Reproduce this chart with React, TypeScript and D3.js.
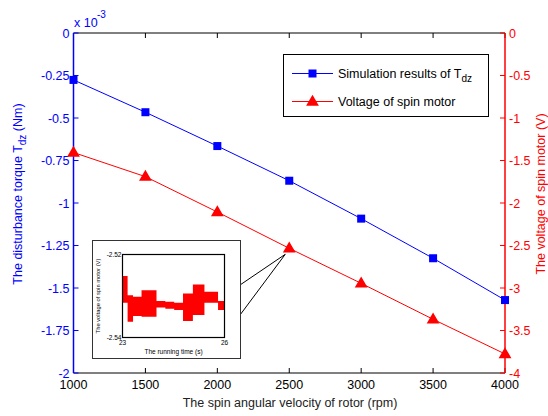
import React from "react";
import * as d3 from "d3";

const rpm = [1000, 1500, 2000, 2500, 3000, 3500, 4000];
const torque = [-0.276, -0.466, -0.665, -0.869, -1.092, -1.325, -1.571]; // x 1e-3 Nm
const voltage = [-1.406, -1.69, -2.106, -2.533, -2.945, -3.368, -3.776];
const xTicks = [1000, 1500, 2000, 2500, 3000, 3500, 4000];
const leftTicks = [0, -0.25, -0.5, -0.75, -1, -1.25, -1.5, -1.75, -2];
const leftTickLabels = ["0", "-0.25", "-0.5", "-0.75", "-1", "-1.25", "-1.5", "-1.75", "-2"];
const rightTicks = [0, -0.5, -1, -1.5, -2, -2.5, -3, -3.5, -4];
const rightTickLabels = ["0", "-0.5", "-1", "-1.5", "-2", "-2.5", "-3", "-3.5", "-4"];

// inset (zoomed voltage band)
const insetT = [23.0, 23.15, 23.31, 23.56, 24.0, 24.26, 24.52, 24.78, 25.07, 25.41, 25.81, 26.0];
const insetHi = [-2.5252, -2.5298, -2.5302, -2.5286, -2.5312, -2.5314, -2.5316, -2.5294, -2.5272, -2.529, -2.5312, -2.5312];
const insetLo = [-2.5316, -2.5362, -2.5348, -2.535, -2.5328, -2.5331, -2.5334, -2.536, -2.5346, -2.5316, -2.5334, -2.5334];
const insetXTicks = [23, 26];
const insetYTicks = [-2.52, -2.54];

const FONT = "'Liberation Sans', Arial, Helvetica, sans-serif";
const BLUE = "#0000ff";
const RED = "#ff0000";

export default function App() {
  const W = 548, H = 416;
  const L = 73.5, R = 505, T = 33, B = 373;
  const x = d3.scaleLinear().domain([1000, 4000]).range([L, R]);
  const yL = d3.scaleLinear().domain([0, -2]).range([T, B]);
  const yR = d3.scaleLinear().domain([0, -4]).range([T, B]);

  const lineT = d3.line<number>().x((_, i) => x(rpm[i])).y((d) => yL(d))(torque) || "";
  const lineV = d3.line<number>().x((_, i) => x(rpm[i])).y((d) => yR(d))(voltage) || "";

  // inset geometry
  const iL = 122.5, iR = 224.5, iT = 254.5, iB = 337.5;
  const ix = d3.scaleLinear().domain([23, 26]).range([iL, iR]);
  const iy = d3.scaleLinear().domain([-2.52, -2.54]).range([iT, iB]);
  const band = d3
    .area<number>()
    .curve(d3.curveStepAfter)
    .x((d) => ix(d))
    .y0((_, i) => iy(insetLo[i]))
    .y1((_, i) => iy(insetHi[i]))(insetT) || "";

  const tri = (cx: number, cy: number, s: number) =>
    `M${cx},${cy - s * 0.62} L${cx + s * 0.58},${cy + s * 0.38} L${cx - s * 0.58},${cy + s * 0.38} Z`;

  const calloutX = x(2500) - 4;
  const calloutY = yR(voltage[3]) + 6;

  return (
    <svg width={W} height={H} style={{ position: "absolute", left: 0, top: 0, background: "#fff" }} fontFamily={FONT}>
      <rect x={0} y={0} width={W} height={H} fill="#fff" />
      {/* frame */}
      <line x1={L} x2={R} y1={T} y2={T} stroke="#000" strokeWidth={1} />
      <line x1={L} x2={R} y1={B} y2={B} stroke="#000" strokeWidth={1} />
      {/* x ticks */}
      {xTicks.map((t) => (
        <g key={t}>
          <line x1={x(t)} x2={x(t)} y1={B} y2={B - 5} stroke="#000" />
          <line x1={x(t)} x2={x(t)} y1={T} y2={T + 5} stroke="#000" />
          <text x={x(t)} y={B + 16} textAnchor="middle" fontSize={12.5} fill="#000">{t}</text>
        </g>
      ))}
      <text x={290} y={407} textAnchor="middle" fontSize={12.5} fill="#222">The spin angular velocity of rotor (rpm)</text>

      {/* left axis */}
      <line x1={L} x2={L} y1={T} y2={B} stroke={BLUE} strokeWidth={1.5} />
      {leftTicks.map((t, i) => (
        <g key={t}>
          <line x1={L} x2={L + 5} y1={yL(t)} y2={yL(t)} stroke={BLUE} />
          <text x={L - 4} y={yL(t) + 4.5} textAnchor="end" fontSize={12.5} fill={BLUE}>{leftTickLabels[i]}</text>
        </g>
      ))}
      <text x={74} y={27} fontSize={12.5} fill={BLUE}>x 10</text>
      <text x={97} y={18} fontSize={10} fill={BLUE}>-3</text>
      <text transform={`translate(22,${194}) rotate(-90)`} textAnchor="middle" fontSize={12.5} fill={BLUE}>
        The disturbance torque T<tspan dy={4} fontSize={10}>dz</tspan><tspan dy={-4}> (Nm)</tspan>
      </text>

      {/* right axis */}
      <line x1={R} x2={R} y1={T} y2={B} stroke={RED} strokeWidth={1.5} />
      {rightTicks.map((t, i) => (
        <g key={t}>
          <line x1={R} x2={R - 5} y1={yR(t)} y2={yR(t)} stroke={RED} />
          <text x={R + 4} y={yR(t) + 4.5} textAnchor="start" fontSize={12.5} fill={RED}>{rightTickLabels[i]}</text>
        </g>
      ))}
      <text transform={`translate(545,${194}) rotate(-90)`} textAnchor="middle" fontSize={12.5} fill={RED}>
        The voltage of spin motor (V)
      </text>

      {/* data */}
      <path d={lineT} fill="none" stroke={BLUE} strokeWidth={1} />
      <path d={lineV} fill="none" stroke={RED} strokeWidth={1} />
      {torque.map((v, i) => (
        <rect key={i} x={x(rpm[i]) - 4} y={yL(v) - 4} width={8} height={8} fill={BLUE} />
      ))}
      {voltage.map((v, i) => (
        <path key={i} d={tri(x(rpm[i]), yR(v), 11)} fill={RED} />
      ))}

      {/* legend */}
      <rect x={283.5} y={54.5} width={205} height={62} fill="#fff" stroke="#000" strokeWidth={1} />
      <line x1={292} x2={333} y1={73.5} y2={73.5} stroke={BLUE} />
      <rect x={308.5} y={69.5} width={8} height={8} fill={BLUE} />
      <text x={338} y={78} fontSize={12.5} fill="#000">
        Simulation results of T<tspan dy={4} fontSize={10}>dz</tspan>
      </text>
      <line x1={292} x2={333} y1={101.5} y2={101.5} stroke={RED} />
      <path d={tri(312.5, 101.5, 11)} fill={RED} />
      <text x={338} y={106} fontSize={12.5} fill="#000">Voltage of spin motor</text>

      {/* callout */}
      <line x1={240} y1={285} x2={calloutX} y2={calloutY} stroke="#000" strokeWidth={1} />
      <line x1={240} y1={315} x2={calloutX} y2={calloutY} stroke="#000" strokeWidth={1} />

      {/* inset */}
      <rect x={92.5} y={240.5} width={148} height={118} fill="#fff" stroke="#333" strokeWidth={1} />
      <path d={band} fill={RED} />
      <rect x={iL} y={iT} width={iR - iL} height={iB - iT} fill="none" stroke="#000" strokeWidth={1.2} />
      {insetYTicks.map((t) => (
        <text key={t} x={iL - 1} y={iy(t) + 2.5} textAnchor="end" fontSize={6.5} fill="#000">{t}</text>
      ))}
      {insetXTicks.map((t) => (
        <text key={t} x={ix(t)} y={iB + 7} textAnchor="middle" fontSize={6.5} fill="#000">{t}</text>
      ))}
      <text x={(iL + iR) / 2} y={354} textAnchor="middle" fontSize={6.5} fill="#000">The running time (s)</text>
      <text transform={`translate(100,${(iT + iB) / 2}) rotate(-90)`} textAnchor="middle" fontSize={5.8} fill="#000">
        The voltage of spin motor (V)
      </text>
    </svg>
  );
}
